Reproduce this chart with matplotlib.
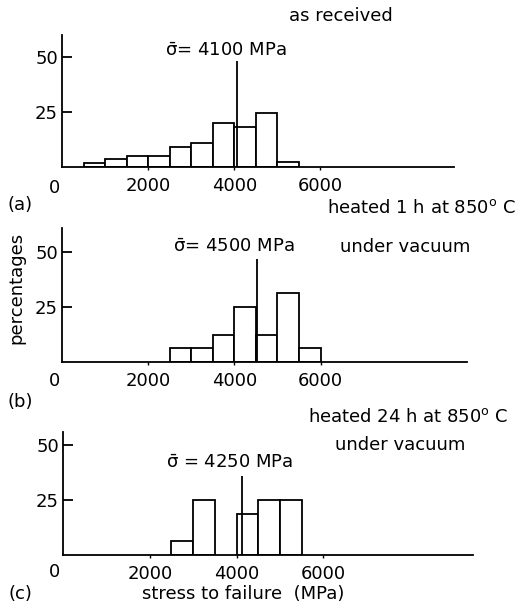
import matplotlib.pyplot as plt

plt.rcParams['font.family'] = 'DejaVu Sans'
plt.rcParams['mathtext.fontset'] = 'dejavusans'

# bin left edges (MPa) and percentages
edges_a = [500, 1000, 1500, 2000, 2500, 3000, 3500, 4000, 4500, 5000]
pct_a = [2, 3.7, 5, 5, 9, 11, 20.2, 18.4, 24.4, 2.1]

edges_b = [2500, 3000, 3500, 4000, 4500, 5000, 5500]
pct_b = [6.25, 6.25, 12.5, 25, 12.5, 31.25, 6.25]

edges_c = [2500, 3000, 4000, 4500, 5000]
pct_c = [6.25, 25, 18.75, 25, 25]

mean_labels = ['4100', '4500', '4250']
mean_pos = [4070, 4530, 4130]
mean_top = [48, 47, 36]

W, H = 520, 611


def fx(x):
    return x / W


def fy(y):
    return 1 - y / H


fig = plt.figure(figsize=(5.2, 6.11), dpi=100)

# axes boxes in pixels: left, baseline, top, right ; ylim max ; xlim max
boxes = [
    (62, 167, 35, 454, 60, 9100),
    (62, 362, 228, 467, 61, 9400),
    (63, 555, 432, 473, 56, 9450),
]
data = [(edges_a, pct_a), (edges_b, pct_b), (edges_c, pct_c)]
fs = 13

for i, (l, b, t, r, ymax, xmax) in enumerate(boxes):
    ax = fig.add_axes([fx(l), fy(b), (r - l) / W, (b - t) / H])
    edges, pct = data[i]
    ax.bar(edges, pct, width=500, align='edge', facecolor='white',
           edgecolor='black', linewidth=1.3, zorder=2)
    ax.vlines(mean_pos[i], 0, mean_top[i], color='black', lw=1.3, zorder=3)
    ax.set_xlim(0, xmax)
    ax.set_ylim(0, ymax)
    for s in ['top', 'right']:
        ax.spines[s].set_visible(False)
    ax.spines['left'].set_linewidth(1.3)
    ax.spines['bottom'].set_linewidth(1.3)
    ax.set_yticks([25, 50])
    ax.set_yticklabels(['25', '50'], fontsize=fs)
    ax.set_xticks([2000, 4000, 6000])
    ax.set_xticklabels(['2000', '4000', '6000'], fontsize=fs)
    ax.tick_params(axis='y', direction='in', length=7, width=1.3, pad=3)
    ax.tick_params(axis='x', direction='out', length=2, width=1.0, pad=5)


def put(x, y, s, ha='center', **kw):
    fig.text(fx(x), fy(y), s, ha=ha, va='center', fontsize=fs, **kw)


sig = r'$\bar{\mathrm{\sigma}}$'

# panel a
put(341, 16, 'as received')
put(226, 51, sig + '= 4100 MPa')
put(55, 188, '0')
put(20, 205, '(a)')

# panel b
put(421, 208, r'heated 1 h at 850$^{\mathregular{o}}$ C')
put(405, 247, 'under vacuum')
put(234, 247, sig + '= 4500 MPa')
put(55, 381, '0')
put(20, 402, '(b)')
put(16, 288, 'percentages', rotation=90)

# panel c
put(408, 417, r'heated 24 h at 850$^{\mathregular{o}}$ C')
put(400, 445, 'under vacuum')
put(230, 463, sig + ' = 4250 MPa')
put(55, 572, '0')
put(20, 594, '(c)')
put(243, 594, 'stress to failure  (MPa)')

fig.savefig('out.png', dpi=100)
